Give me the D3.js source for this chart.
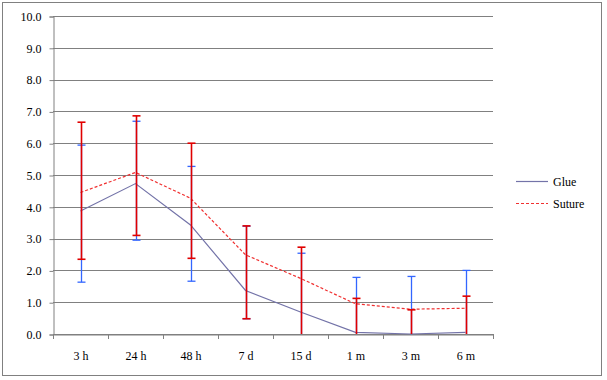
<!DOCTYPE html>
<html>
<head>
<meta charset="utf-8">
<script src="https://cdn.jsdelivr.net/npm/d3@7"></script>
<style>
  body { margin: 0; background: #fff; }
</style>
</head>
<body>
<svg id="chart"></svg>
<script>
const categories = ["3 h", "24 h", "48 h", "7 d", "15 d", "1 m", "3 m", "6 m"];
const yTicks = [0, 1, 2, 3, 4, 5, 6, 7, 8, 9, 10];

const glue = [3.87, 4.73, 3.43, 1.37, 0.69, 0.05, 0.0, 0.05];
const glueHigh = [5.94, 6.69, 5.27, 3.39, 2.54, 1.78, 1.81, 2.00];
const glueLow = [1.63, 2.95, 1.66, 0.48, 0, 0, 0, 0];

const suture = [4.45, 5.08, 4.27, 2.49, 1.75, 0.95, 0.78, 0.81];
const sutureHigh = [6.66, 6.86, 6.00, 3.40, 2.73, 1.12, 0.76, 1.19];
const sutureLow = [2.35, 3.10, 2.38, 0.48, 0, 0, 0, 0];

const width = 607, height = 380;
const margin = {top: 16, right: 114, bottom: 46, left: 53};
const FONT = '"Liberation Serif"';

const svg = d3.select("#chart")
    .attr("width", width)
    .attr("height", height);

// outer frame
svg.append("rect")
   .attr("x", 2.5).attr("y", 2.5)
   .attr("width", 599).attr("height", 373)
   .attr("fill", "#fff")
   .attr("stroke", "#808080");

const x = d3.scaleBand()
    .domain(categories)
    .range([margin.left, width - margin.right])
    .padding(0);

const y = d3.scaleLinear()
    .domain([0, 10])
    .range([height - margin.bottom, margin.top]);

// gridlines
svg.append("g")
   .selectAll("line")
   .data(yTicks)
   .enter()
   .append("line")
   .attr("x1", margin.left)
   .attr("x2", width - margin.right)
   .attr("y1", d => Math.round(y(d)) + 0.5)
   .attr("y2", d => Math.round(y(d)) + 0.5)
   .attr("stroke", "#808080");

// y axis
const yAxis = svg.append("g")
   .attr("transform", `translate(${margin.left + 0.5},0.5)`)
   .call(d3.axisLeft(y).tickValues(yTicks).tickFormat(d3.format(".1f")).tickSize(4).tickPadding(8));

// x axis
const xAxis = svg.append("g")
   .attr("transform", `translate(0.5,${Math.round(y(0)) + 0.5})`)
   .call(d3.axisBottom(x).tickSize(0).tickPadding(17));

[yAxis, xAxis].forEach(g => {
    g.select(".domain").attr("stroke", "#808080");
    g.selectAll(".tick line").attr("stroke", "#808080");
    g.selectAll("text")
     .style("font-family", FONT)
     .style("font-size", "12px")
     .attr("fill", "#000");
});

// x boundary ticks
const bounds = categories.map(c => x(c)).concat([width - margin.right]);
svg.append("g")
   .selectAll("line")
   .data(bounds)
   .enter()
   .append("line")
   .attr("x1", d => Math.round(d) + 0.5)
   .attr("x2", d => Math.round(d) + 0.5)
   .attr("y1", y(0))
   .attr("y2", y(0) + 5)
   .attr("stroke", "#808080");

const cx = c => x(c) + x.bandwidth() / 2;

const line = d3.line()
    .x((d, i) => cx(categories[i]))
    .y(d => y(d));

svg.append("path")
   .datum(glue)
   .attr("d", line)
   .attr("fill", "none")
   .attr("stroke", "#7373a8")
   .attr("stroke-width", 1.2);

svg.append("path")
   .datum(suture)
   .attr("d", line)
   .attr("fill", "none")
   .attr("stroke", "#f03030")
   .attr("stroke-width", 1.2)
   .attr("stroke-dasharray", "3,2");

function errorBars(high, low, color, w) {
    const g = svg.append("g").attr("stroke", color).attr("stroke-width", w);
    categories.forEach((c, i) => {
        const px = Math.round(cx(c)) + 0.5;
        g.append("line")
         .attr("x1", px).attr("x2", px)
         .attr("y1", y(high[i])).attr("y2", y(low[i]));
        g.append("line")
         .attr("x1", px - 4).attr("x2", px + 4)
         .attr("y1", y(high[i])).attr("y2", y(high[i]));
        if (low[i] > 0) {
            g.append("line")
             .attr("x1", px - 4).attr("x2", px + 4)
             .attr("y1", y(low[i])).attr("y2", y(low[i]));
        }
    });
}

errorBars(glueHigh, glueLow, "#3366ff", 1.3);
errorBars(sutureHigh, sutureLow, "#e00000", 1.6);

// legend
const legend = svg.append("g");
legend.append("line")
      .attr("x1", 516).attr("x2", 548)
      .attr("y1", 181.5).attr("y2", 181.5)
      .attr("stroke", "#7373a8").attr("stroke-width", 1.2);
legend.append("text")
      .attr("x", 553).attr("y", 186)
      .style("font-family", FONT).style("font-size", "12px")
      .text("Glue");
legend.append("line")
      .attr("x1", 516).attr("x2", 548)
      .attr("y1", 203.5).attr("y2", 203.5)
      .attr("stroke", "#f03030").attr("stroke-width", 1.2)
      .attr("stroke-dasharray", "3,2");
legend.append("text")
      .attr("x", 553).attr("y", 208)
      .style("font-family", FONT).style("font-size", "12px")
      .text("Suture");
</script>
</body>
</html>
